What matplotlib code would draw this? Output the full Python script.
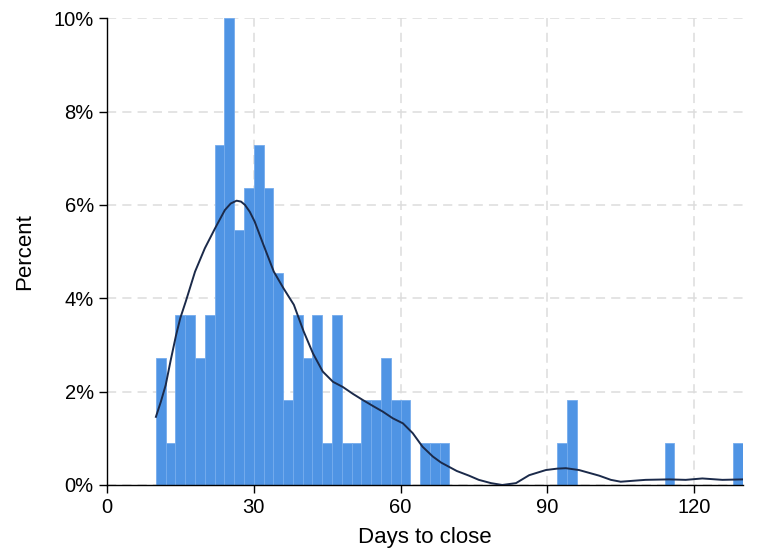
import numpy as np
import matplotlib
matplotlib.use("Agg")
import matplotlib.pyplot as plt
from matplotlib.ticker import FuncFormatter

plt.rcParams["font.family"] = ["Liberation Sans", "DejaVu Sans"]

# histogram: bin left edges (days, width 2) and counts (N = 110)
bin_edges = [10, 12, 14, 16, 18, 20, 22, 24, 26, 28, 30, 32, 34, 36, 38, 40,
             42, 44, 46, 48, 50, 52, 54, 56, 58, 60, 62, 64, 66, 68,
             92, 94, 114, 128]
bin_counts = [3, 1, 4, 4, 3, 4, 8, 11, 6, 7, 8, 7, 5, 2, 4, 3,
              4, 1, 4, 1, 1, 2, 2, 3, 2, 2, 0, 1, 1, 1,
              1, 2, 1, 1]
n_obs = 110
bin_width = 2

# density curve (percent)
kde_x = [10, 11, 12, 13, 14.1, 15, 16.1, 18, 20, 22.1, 24.1, 25.3, 26.5, 27.4,
         28.2, 29.2, 30.2, 32, 34.1, 36.1, 38.2, 40.2, 42.1, 44.1, 46.2, 48.2,
         50.3, 52.3, 54.4, 56.4, 58.4, 60.5, 62.5, 64.5, 66.6, 68.3, 71.5,
         74, 76, 78.5, 80.8, 83.6, 86.3, 89.7, 92, 93.8, 96.5, 100.6, 103,
         105, 107.5, 110.1, 114.9, 118.3, 121.7, 125.8, 130]
kde_y = [1.46, 1.78, 2.14, 2.66, 3.2, 3.58, 3.93, 4.57, 5.07, 5.5, 5.89, 6.03,
         6.09, 6.07, 6.0, 5.85, 5.64, 5.14, 4.57, 4.21, 3.86, 3.29, 2.82,
         2.43, 2.21, 2.1, 1.95, 1.82, 1.69, 1.57, 1.43, 1.32, 1.11, 0.82,
         0.61, 0.48, 0.3, 0.2, 0.11, 0.04, 0.0, 0.04, 0.21, 0.32, 0.35,
         0.36, 0.32, 0.2, 0.11, 0.07, 0.09, 0.11, 0.12, 0.11, 0.14, 0.11, 0.12]

x_ticks = [0, 30, 60, 90, 120]
y_ticks = [0, 2, 4, 6, 8, 10]

pct = np.array(bin_counts) / n_obs * 100

fig = plt.figure(figsize=(7.68, 5.5), dpi=100)
ax = fig.add_axes([0.1393, 0.1182, 0.8281, 0.8488])

ax.bar(bin_edges, pct, width=bin_width, align="edge",
       color="#4f94e4", edgecolor="#75aced", linewidth=0.6, zorder=2)
ax.plot(kde_x, kde_y, color="#1b2a4a", linewidth=1.4, zorder=3,
        solid_joinstyle="round")

ax.set_xlim(0, 130)
ax.set_ylim(0, 10)
ax.set_xticks(x_ticks)
ax.set_yticks(y_ticks)
ax.yaxis.set_major_formatter(FuncFormatter(lambda v, p: f"{v:.0f}%"))

ax.grid(True, color="#dddddd", linestyle=(0, (6, 4)), linewidth=1.1, zorder=0)
ax.set_axisbelow(True)
for s in ["top", "right"]:
    ax.spines[s].set_visible(False)
for s in ["left", "bottom"]:
    ax.spines[s].set_color("black")
    ax.spines[s].set_linewidth(1.0)
ax.tick_params(axis="both", labelsize=14.5, length=6, width=1.0, color="black")

ax.set_xlabel("Days to close", fontsize=16, labelpad=7)
ax.set_ylabel("Percent", fontsize=16, labelpad=13)

fig.savefig("out.png", dpi=100)
